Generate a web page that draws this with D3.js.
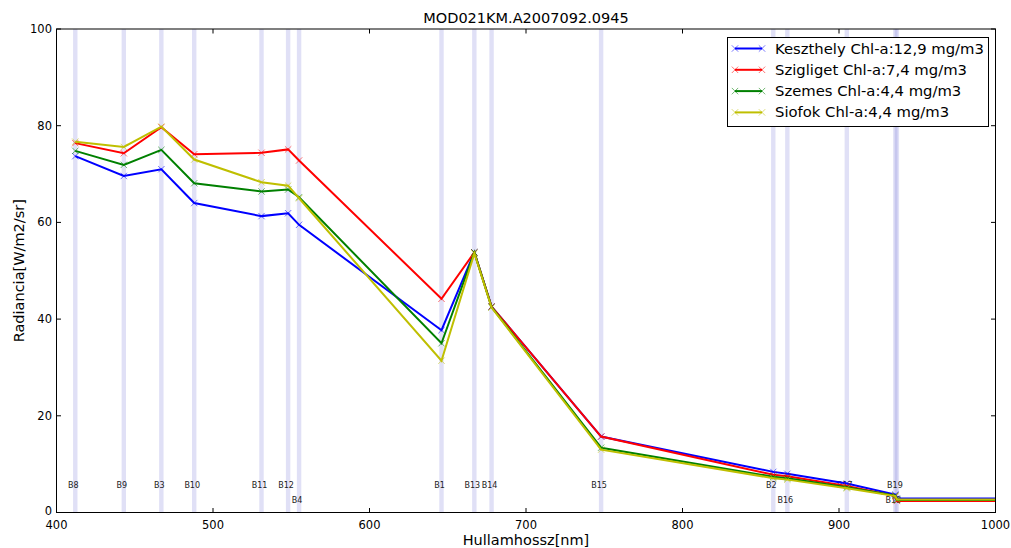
<!DOCTYPE html>
<html><head><meta charset="utf-8">
<script src="https://cdn.jsdelivr.net/npm/d3@7"></script>
<style>body{margin:0;background:#fff;} text{font-family:"DejaVu Sans",sans-serif;}</style>
</head><body><svg id="c" width="1011" height="548"></svg>
<script>
const title = "MOD021KM.A2007092.0945";
const xLabel = "Hullamhossz[nm]";
const yLabel = "Radiancia[W/m2/sr]";
const bands = ["B8","B9","B3","B10","B11","B12","B4","B1","B13","B14","B15","B2","B16","B17","B18","B19"];
const wavelengths = [412,443,467,488,531,548,555,646,667,678,748,858,867,905,936,937];
const labelLevel = [5,5,5,5,5,5,2,5,5,5,5,5,2,5,2,5];
const tailWavelength = 1375;
const seriesNames = ["Keszthely Chl-a:12,9 mg/m3","Szigliget Chl-a:7,4 mg/m3","Szemes Chl-a:4,4 mg/m3","Siofok Chl-a:4,4 mg/m3"];
const keszthely = [73.7,69.6,71.0,64.0,61.3,61.9,59.5,37.7,53.8,42.6,15.7,8.4,8.0,6.0,3.7,2.9,2.8];
const szigliget = [76.4,74.3,79.7,74.1,74.4,75.1,72.8,44.2,53.8,42.6,15.7,7.8,7.5,5.5,3.4,2.4,2.3];
const szemes    = [74.8,71.9,75.0,68.1,66.4,66.8,65.2,35.0,53.8,42.5,13.4,7.4,7.1,5.2,3.5,2.6,2.6];
const siofok    = [76.7,75.6,79.8,73.0,68.3,67.6,65.0,31.4,53.6,42.4,13.0,7.1,6.8,5.0,3.4,2.7,2.7];
const colors = ["#0000ff","#ff0000","#008000","#bfbf00"];
const xTicks = [400,500,600,700,800,900,1000];
const yTicks = [0,20,40,60,80,100];

const svg = d3.select("#c");
const m = {l:56.5, r:995.5, t:29, b:512.5};
const x = d3.scaleLinear().domain([400,1000]).range([m.l,m.r]);
const y = d3.scaleLinear().domain([0,100]).range([m.b,m.t]);

svg.append("clipPath").attr("id","clip").append("rect")
  .attr("x",m.l).attr("y",m.t).attr("width",m.r-m.l).attr("height",m.b-m.t);
const plot = svg.append("g").attr("clip-path","url(#clip)");

// band stripes
plot.selectAll(".band").data(wavelengths).enter().append("rect")
  .attr("x",d=>x(d)-2.2).attr("width",4.4).attr("y",m.t).attr("height",m.b-m.t)
  .attr("fill","rgb(100,100,210)").attr("opacity",0.2);

// band labels
plot.selectAll(".blab").data(bands).enter().append("text")
  .attr("x",(d,i)=>x(wavelengths[i])-2).attr("y",(d,i)=>y(labelLevel[i]))
  .attr("text-anchor","middle").attr("font-size","8px").attr("fill","#222").text(d=>d);

const xs = wavelengths.concat([tailWavelength]);
const all = [keszthely,szigliget,szemes,siofok];
const line = d3.line().x(d=>x(d[0])).y(d=>y(d[1]));
function xMark(g, px, py, col){
  const s=3.2;
  g.append("path").attr("d",`M${px-s},${py-s}L${px+s},${py+s}M${px-s},${py+s}L${px+s},${py-s}`)
   .attr("stroke",col).attr("stroke-width",1).attr("opacity",0.55).attr("fill","none");
}
all.forEach((vals,k)=>{
  const pts = xs.map((w,i)=>[w,vals[i]]);
  plot.append("path").datum(pts).attr("d",line).attr("fill","none")
    .attr("stroke",colors[k]).attr("stroke-width",2).attr("stroke-linejoin","miter");
  pts.forEach(p=>xMark(plot, x(p[0]), y(p[1]), colors[k]));
});

// frame
svg.append("rect").attr("x",m.l).attr("y",m.t).attr("width",m.r-m.l).attr("height",m.b-m.t)
  .attr("fill","none").attr("stroke","#000").attr("stroke-width",1);

// ticks inward on all sides
const tk = 4.5;
xTicks.forEach(t=>{
  svg.append("line").attr("x1",x(t)).attr("x2",x(t)).attr("y1",m.b).attr("y2",m.b-tk).attr("stroke","#000");
  svg.append("line").attr("x1",x(t)).attr("x2",x(t)).attr("y1",m.t).attr("y2",m.t+tk).attr("stroke","#000");
  svg.append("text").attr("x",x(t)).attr("y",m.b+16).attr("text-anchor","middle")
    .attr("font-size","11.5px").attr("fill","#000").text(t);
});
yTicks.forEach(t=>{
  svg.append("line").attr("x1",m.l).attr("x2",m.l+tk).attr("y1",y(t)).attr("y2",y(t)).attr("stroke","#000");
  svg.append("line").attr("x1",m.r).attr("x2",m.r-tk).attr("y1",y(t)).attr("y2",y(t)).attr("stroke","#000");
  svg.append("text").attr("x",m.l-4.5).attr("y",y(t)+(t===0?2.5:4)).attr("text-anchor","end")
    .attr("font-size","11.5px").attr("fill","#000").text(t);
});

svg.append("text").attr("x",(m.l+m.r)/2).attr("y",23).attr("text-anchor","middle")
  .attr("font-size","14.5px").attr("fill","#000").text(title);
svg.append("text").attr("x",(m.l+m.r)/2).attr("y",545).attr("text-anchor","middle")
  .attr("font-size","14.5px").attr("fill","#000").text(xLabel);
svg.append("text").attr("transform",`translate(24,${(m.t+m.b)/2}) rotate(-90)`).attr("text-anchor","middle")
  .attr("font-size","14.5px").attr("fill","#000").text(yLabel);

// legend
const lg = svg.append("g");
lg.append("rect").attr("x",727.5).attr("y",37.5).attr("width",261).attr("height",89)
  .attr("fill","#fff").attr("stroke","#000").attr("stroke-width",1);
seriesNames.forEach((n,k)=>{
  const yy = 48.5 + k*21.3;
  lg.append("line").attr("x1",735).attr("x2",762).attr("y1",yy).attr("y2",yy)
    .attr("stroke",colors[k]).attr("stroke-width",2);
  xMark(lg,735,yy,colors[k]); xMark(lg,762,yy,colors[k]);
  lg.append("text").attr("x",775).attr("y",yy+5).attr("font-size","14.8px").attr("fill","#000").text(n);
});
</script></body></html>
